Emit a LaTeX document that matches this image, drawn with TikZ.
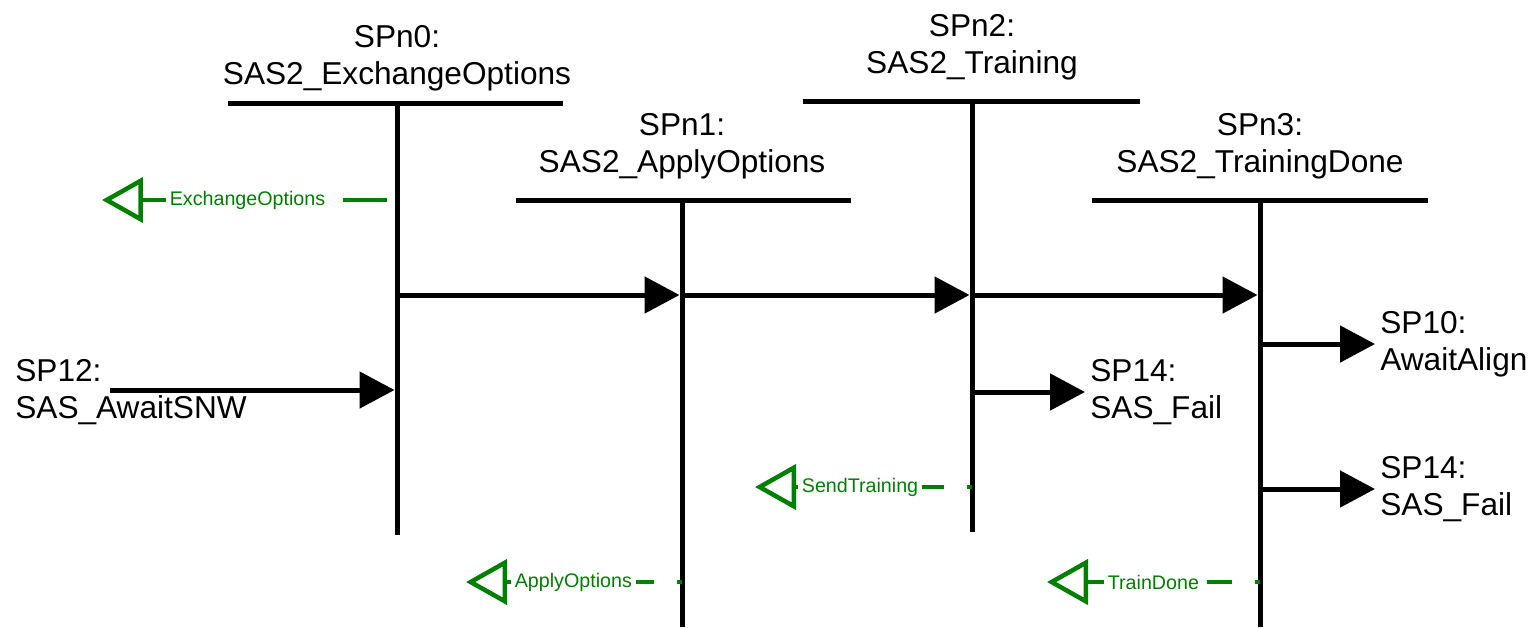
\documentclass[tikz,border=0pt]{standalone}
\usepackage{fontspec}
\setmainfont{Liberation Sans}
\usepackage{tikz}
\usetikzlibrary{arrows.meta, positioning, calc}
\definecolor{signal}{HTML}{008000}
\tikzset{
  bar/.style={line width=0.1cm},
  life/.style={line width=0.1cm},
  flow/.style={line width=0.1cm, -{Triangle[length=0.7cm, width=0.72cm]}},
  title/.style={
    align=center, inner sep=0pt,
    font=\fontsize{18}{21}\selectfont,
  },
  target/.style={
    anchor=west, align=left, inner sep=0pt,
    font=\fontsize{18}{21}\selectfont,
  },
  sigLabel/.style={
    anchor=west, inner sep=2pt, text=signal,
    font=\fontsize{11.2}{13}\selectfont,
  },
  sigHead/.style={draw=signal, line width=0.08cm,
    -{Triangle[open, length=0.82cm, width=0.9cm, line width=0.09cm]}},
  sigDash/.style={draw=signal, line width=0.08cm,
    dash pattern=on 0.5cm off 0.46cm, dash phase=0.4cm},
}

\begin{document}
\begin{tikzpicture}[x=0.02cm, y=-0.02cm]
  \useasboundingbox (0,0) rectangle (1537,627);

  % states: top of lifeline and its end
  \coordinate (s0) at (397,103);
  \coordinate (s0end) at (397,535);
  \coordinate (s1) at (682,200);
  \coordinate (s1end) at (682,627);
  \coordinate (s2) at (972,101);
  \coordinate (s2end) at (972,532);
  \coordinate (s3) at (1260,200);
  \coordinate (s3end) at (1260,627);

  \draw[bar] ($(s0)+(-169,0)$) -- ($(s0)+(166,0)$);
  \draw[bar] ($(s1)+(-166,0)$) -- ($(s1)+(169,0)$);
  \draw[bar] ($(s2)+(-169,0)$) -- ($(s2)+(168,0)$);
  \draw[bar] ($(s3)+(-168,0)$) -- ($(s3)+(168,0)$);

  \draw[life] (s0) -- (s0end);
  \draw[life] (s1) -- (s1end);
  \draw[life] (s2) -- (s2end);
  \draw[life] (s3) -- (s3end);

  \node[title, above=0.24cm of s0] (n0) {SPn0:\\SAS2\_ExchangeOptions};
  \node[title, above=0.42cm of s1] (n1) {SPn1:\\SAS2\_ApplyOptions};
  \node[title, above=0.42cm of s2] (n2) {SPn2:\\SAS2\_Training};
  \node[title, above=0.42cm of s3] (n3) {SPn3:\\SAS2\_TrainingDone};

  % transitions between the states
  \coordinate (t0) at (397,295);
  \coordinate (t1) at (682,295);
  \coordinate (t2) at (972,295);
  \coordinate (t3) at (1260,295);
  \draw[flow, shorten >=0.05cm] (t0) -- (t1);
  \draw[flow, shorten >=0.05cm] (t1) -- (t2);
  \draw[flow, shorten >=0.05cm] (t2) -- (t3);

  % entry and exits
  \node[target] (sp12) at (15,392) {SP12:\\SAS\_AwaitSNW};
  \coordinate (sp12in) at (110,390);
  \draw[flow, shorten >=0.05cm] (sp12in) -- (s0 |- sp12in);

  \node[target] (sp14a) at (1090,392) {SP14:\\SAS\_Fail};
  \node[target] (sp10) at (1380,344) {SP10:\\AwaitAlign};
  \node[target] (sp14b) at (1380,489) {SP14:\\SAS\_Fail};
  \draw[flow, shorten >=0.1cm] (s2 |- sp14a.west) -- (sp14a.west);
  \draw[flow, shorten >=0.1cm] (s3 |- sp10.west) -- (sp10.west);
  \draw[flow, shorten >=0.1cm] (s3 |- sp14b.west) -- (sp14b.west);

  % output signals
  \coordinate (exTip) at (102,200);
  \coordinate (apTip) at (466,582);
  \coordinate (stTip) at (755,487);
  \coordinate (tdTip) at (1047,582);
  \node[sigLabel] (exSig) at (166,200) {ExchangeOptions};
  \node[sigLabel] (apSig) at (511,582) {ApplyOptions};
  \node[sigLabel] (stSig) at (798,487) {SendTraining};
  \node[sigLabel] (tdSig) at (1104,582) {TrainDone};

  \draw[sigHead] (exSig.west) -- (exTip);
  \draw[sigHead] (apSig.west) -- (apTip);
  \draw[sigHead] (stSig.west) -- (stTip);
  \draw[sigHead] (tdSig.west) -- (tdTip);

  \draw[sigDash, dash pattern=on 0.88cm off 0.92cm, dash phase=1.6cm]
    (s0 |- exSig.east) -- (exSig.east);
  \draw[sigDash] (s1 |- apSig.east) -- (apSig.east);
  \draw[sigDash] (s2 |- stSig.east) -- (stSig.east);
  \draw[sigDash] (s3 |- tdSig.east) -- (tdSig.east);

\end{tikzpicture}
\end{document}
